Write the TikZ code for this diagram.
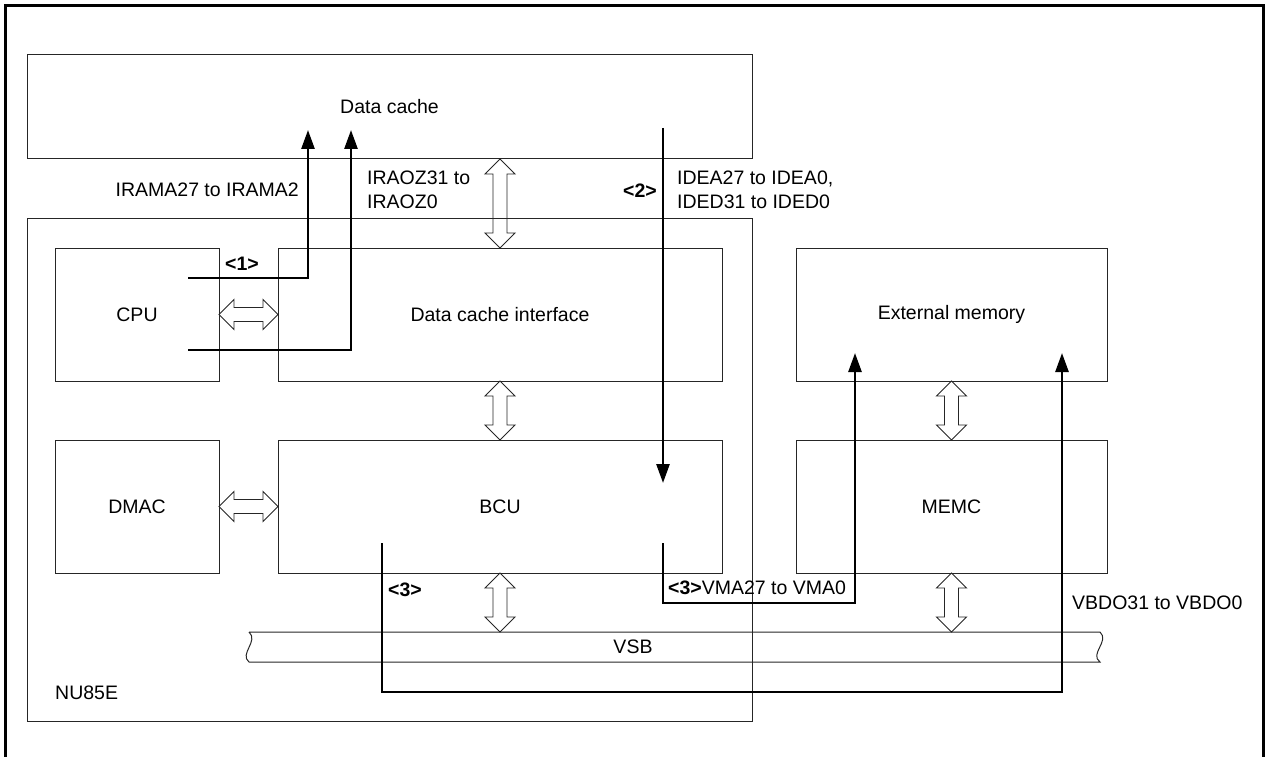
\documentclass[tikz,border=0pt]{standalone}
\usepackage{fontspec}
\setmainfont{Liberation Sans}
\usetikzlibrary{arrows.meta,calc}
\newcommand\vdarr[2]{\draw[hol] (#1) -- ++(15,15) -- ++(-8,0) -- ($(#2)+(7,-15)$) -- ++(8,0) -- (#2) -- ++(-15,-15) -- ++(8,0) -- ($(#1)+(-7,15)$) -- ++(-8,0) -- cycle;}
\newcommand\hdarr[2]{\draw[hol] (#1) -- ++(15,-15) -- ++(0,8) -- ($(#2)+(-15,-7)$) -- ++(0,-8) -- (#2) -- ++(-15,15) -- ++(0,-8) -- ($(#1)+(15,7)$) -- ++(0,8) -- cycle;}
\begin{document}
\begin{tikzpicture}[x=1pt,y=-1pt,
  font=\fontsize{19.5}{24}\selectfont,
  box/.style={draw=black!85, line width=1pt, inner sep=0pt, outer sep=0pt},
  sig/.style={line width=2.6pt, -{Triangle[length=19pt,width=13pt]}},
  hol/.style={draw=black!85, line width=0.9pt, line join=miter},
  lbl/.style={inner sep=0pt, align=left},
  tag/.style={inner sep=0pt, font=\fontsize{19.5}{24}\selectfont\bfseries}]
\clip (0,0) rectangle (1267,757);
% outer frame
\draw[line width=3pt] (5,790) -- (5,6) -- (1263,6) -- (1263,790);
% boxes
\node[box, minimum width=725pt, minimum height=503pt] (nu) at (389.5,469.5) {};
\node[box, minimum width=725pt, minimum height=104pt] (dc) at (389.5,107) {Data cache};
\node[box, minimum width=164pt, minimum height=133pt] (cpu) at (137,314.5) {CPU};
\node[box, minimum width=444pt, minimum height=133pt] (dci) at (500,314.5) {Data cache interface};
\node[box, minimum width=311pt, minimum height=133pt] (ext) at (951.5,314.5) {External memory};
\node[box, minimum width=164pt, minimum height=133pt] (dmac) at (137,506.5) {DMAC};
\node[box, minimum width=444pt, minimum height=133pt] (bcu) at (500,506.5) {BCU};
\node[box, minimum width=311pt, minimum height=133pt] (memc) at (951.5,506.5) {MEMC};
\node[lbl, anchor=west] (nulbl) at (55,693) {NU85E};
% VSB bus
\draw[draw=black!85, line width=1pt] (249,632) -- (1100,632) .. controls (1110,641) and (1089,654) .. (1100,662) -- (249,662) .. controls (239,654) and (259,641) .. (249,632);
\node[lbl] (vsb) at (633,647) {VSB};
\coordinate (vsbT) at (633,632);
% hollow double arrows
\coordinate (a1) at (dci.north |- dc.south);
\vdarr{a1}{dci.north}
\vdarr{dci.south}{bcu.north}
\coordinate (a2) at (bcu.south |- vsbT);
\vdarr{bcu.south}{a2}
\vdarr{ext.south}{memc.north}
\coordinate (a3) at (memc.south |- vsbT);
\vdarr{memc.south}{a3}
\hdarr{cpu.east}{dci.west}
\hdarr{dmac.east}{bcu.west}
% signal paths
\coordinate (s1) at (188,278); \coordinate (t1) at (308,130);
\draw[sig] (s1) -| (t1);
\coordinate (s2) at (188,350); \coordinate (t2) at (351,130);
\draw[sig] (s2) -| (t2);
\coordinate (s3) at (663,128); \coordinate (t3) at (663,483);
\draw[sig] (s3) -- (t3);
\coordinate (s4) at (663,543); \coordinate (k4) at (855,603); \coordinate (t4) at (855,353);
\draw[sig] (s4) |- (k4) -- (t4);
\coordinate (s5) at (382,543); \coordinate (k5) at (1062,692); \coordinate (t5) at (1062,353);
\draw[sig] (s5) |- (k5) -- (t5);
% labels
\node[lbl, anchor=east] (l1) at (299,190) {IRAMA27 to IRAMA2};
\node[lbl, anchor=west] (l2) at (367,190) {IRAOZ31 to\\IRAOZ0};
\node[tag, anchor=west] (tg1) at (225,264) {<1>};
\node[tag, anchor=east] (tg2) at (657,191) {<2>};
\node[lbl, anchor=west] (l3) at (677,190) {IDEA27 to IDEA0,\\IDED31 to IDED0};
\node[tag, anchor=west] (tg3) at (388,590) {<3>};
\node[lbl, anchor=west] (l4) at (668,588) {{\bfseries<3>}VMA27 to VMA0};
\node[lbl, anchor=west] (l5) at (1072,603) {VBDO31 to VBDO0};
\end{tikzpicture}
\end{document}
